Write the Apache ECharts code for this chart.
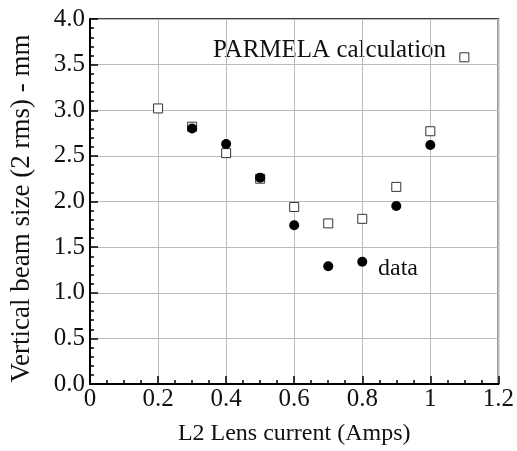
<!DOCTYPE html>
<html>
<head>
<meta charset="utf-8">
<script src="https://cdn.jsdelivr.net/npm/echarts@6/dist/echarts.min.js"></script>
<style>html,body{margin:0;padding:0;background:#fff}#c{width:517px;height:451px}</style>
</head>
<body>
<div id="c"></div>
<script>
const parmelaX = [0.2, 0.3, 0.4, 0.5, 0.6, 0.7, 0.8, 0.9, 1.0, 1.1];
const parmelaY = [3.02, 2.82, 2.53, 2.25, 1.94, 1.76, 1.81, 2.16, 2.77, 3.58];
const dataX = [0.3, 0.4, 0.5, 0.6, 0.7, 0.8, 0.9, 1.0];
const dataY = [2.80, 2.63, 2.26, 1.74, 1.29, 1.34, 1.95, 2.62];
const xTitle = 'L2 Lens current (Amps)';
const yTitle = 'Vertical beam size (2 rms) - mm';
const parmelaLabel = 'PARMELA calculation';
const dataLabel = 'data';

const FONT = "'Liberation Serif','Times New Roman',serif";
const chart = echarts.init(document.getElementById('c'), null, {renderer: 'canvas'});
chart.setOption({
  animation: false,
  backgroundColor: '#fff',
  grid: {left: 90, right: 17, top: 19, bottom: 66, show: true, borderColor: '#000', borderWidth: 1.5, backgroundColor: 'transparent'},
  xAxis: {
    type: 'value', min: 0, max: 1.2, interval: 0.2,
    name: xTitle, nameLocation: 'middle', nameGap: 38,
    nameTextStyle: {fontFamily: FONT, fontSize: 24, color: '#111'},
    axisLine: {show: true, onZero: false, lineStyle: {color: '#000', width: 2}},
    axisTick: {show: true, inside: true, length: 8, lineStyle: {color: '#000', width: 1.5}},
    minorTick: {show: true, splitNumber: 4, length: 4, lineStyle: {color: '#000', width: 1.5}},
    axisLabel: {fontFamily: FONT, fontSize: 25, color: '#111', margin: 3},
    splitLine: {show: true, lineStyle: {color: '#bbbbbb', width: 1}}
  },
  yAxis: {
    type: 'value', min: 0, max: 4, interval: 0.5,
    name: yTitle, nameLocation: 'middle', nameGap: 55,
    nameTextStyle: {fontFamily: FONT, fontSize: 27, color: '#111', padding: [0, 14, 0, 0]},
    axisLine: {show: true, onZero: false, lineStyle: {color: '#000', width: 2}},
    axisTick: {show: true, inside: true, length: 8, lineStyle: {color: '#000', width: 1.5}},
    minorTick: {show: true, splitNumber: 5, length: 4, lineStyle: {color: '#000', width: 1.5}},
    axisLabel: {fontFamily: FONT, fontSize: 25, color: '#111', margin: 5, formatter: v => v.toFixed(1)},
    splitLine: {show: true, lineStyle: {color: '#bbbbbb', width: 1}}
  },
  series: [
    {
      type: 'scatter', name: 'PARMELA',
      data: parmelaX.map((x, i) => [x, parmelaY[i]]),
      symbol: 'rect', symbolSize: 9,
      itemStyle: {color: '#fff', borderColor: '#333', borderWidth: 1, opacity: 1}
    },
    {
      type: 'scatter', name: 'data',
      data: dataX.map((x, i) => [x, dataY[i]]),
      symbol: 'circle', symbolSize: 10,
      itemStyle: {color: '#000', opacity: 1}
    }
  ],
  graphic: [
    {type: 'text', left: 213, top: 38, style: {text: parmelaLabel, font: "25px " + FONT, fill: '#111'}},
    {type: 'text', left: 378, top: 257, style: {text: dataLabel, font: "24px " + FONT, fill: '#111'}}
  ]
});
</script>
</body>
</html>
